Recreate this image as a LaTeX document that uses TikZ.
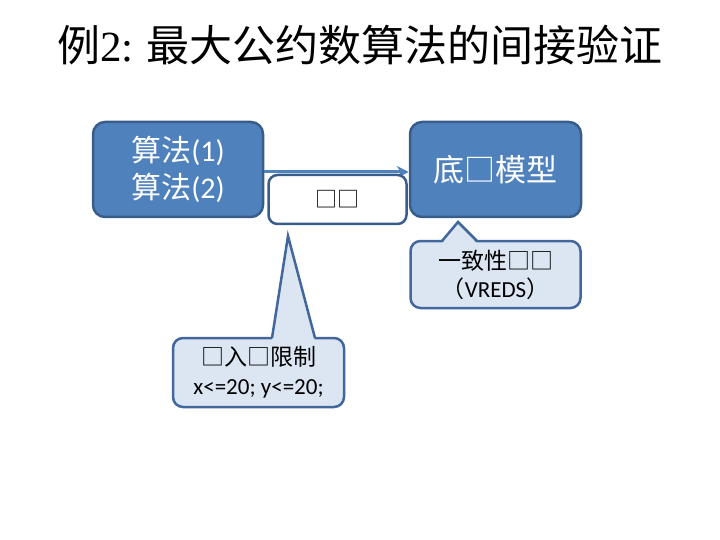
\documentclass[tikz,border=0pt]{standalone}
\usepackage{fontspec}
\setmainfont{Carlito}
\newfontfamily\cjk{Noto Sans CJK SC}
\newfontfamily\titleserif{Liberation Serif}
\usetikzlibrary{arrows.meta,positioning}
\definecolor{boxblue}{HTML}{4F81BD}
\definecolor{boxedge}{HTML}{385D8A}
\definecolor{notefill}{HTML}{DCE6F2}
\definecolor{noteedge}{HTML}{41679C}

\tikzset{
  blockbox/.style={draw=boxedge, fill=boxblue, line width=2.5pt, rounded corners=12pt,
    text=white, align=center, inner sep=0pt, minimum width=170pt, minimum height=95pt,
    font=\fontsize{30}{37}\selectfont},
  tagbox/.style={draw=boxedge, fill=white, line width=2.5pt, rounded corners=9pt,
    inner sep=0pt, minimum width=138pt, minimum height=49pt, font=\fontsize{22}{26}\selectfont},
  callbox/.style={draw=noteedge, fill=notefill, line width=2.5pt, rounded corners=10pt,
    align=center, inner sep=0pt, minimum width=170pt},
  pointer/.style={draw=noteedge, line width=2.5pt, line join=miter},
  arrowline/.style={draw=boxblue, line width=3pt, -{Stealth[length=12pt,width=12pt]}},
}

\begin{document}
\begin{tikzpicture}[x=1pt,y=-1pt]
  \useasboundingbox (0,0) rectangle (720,540);
  % title
  \node[font=\fontsize{43}{50}\selectfont] (title) at (360,45)
    {{\cjk 例}{\titleserif 2:} {\cjk 最大公约数算法的间接验证}};
  % the two blocks and the arrow between them
  \node[blockbox] (alg) at (178,169.5) {{\cjk 算法}(1)\\{\cjk 算法}(2)};
  \node[blockbox, minimum width=171pt, font=\fontsize{31}{37}\selectfont] (model) at (495.5,169.5) {{\cjk 底□模型}};
  \draw[arrowline] ([yshift=-2.5pt]alg.east) -- ([yshift=-2.5pt]model.west);
  \node[tagbox] (tag) at (337.5,199.5) {{\cjk □□}};
  % callout under the model
  \node[callbox, minimum height=67pt, font=\fontsize{23}{28}\selectfont] (vreds) at (495.5,274.5)
    {{\cjk 一致性□□}\\{\cjk （}VREDS{\cjk ）}};
  \coordinate (vredstip) at (458,222);
  \fill[notefill] (442,243.5) -- (vredstip) -- (477,243.5) -- cycle;
  \draw[pointer] (442,241) -- (vredstip) -- (477,241);
  % callout with the input limits
  \node[callbox, minimum width=171pt, minimum height=69pt, font=\fontsize{23}{29}\selectfont] (limit) at (258.5,372.5)
    {{\cjk □入□限制}\\x<=20; y<=20;};
  \coordinate (limittip) at (288,236);
  \fill[notefill] (272,340.5) -- (limittip) -- (315,340.5) -- cycle;
  \draw[pointer] (272,338) -- (limittip) -- (315,338);
\end{tikzpicture}
\end{document}
